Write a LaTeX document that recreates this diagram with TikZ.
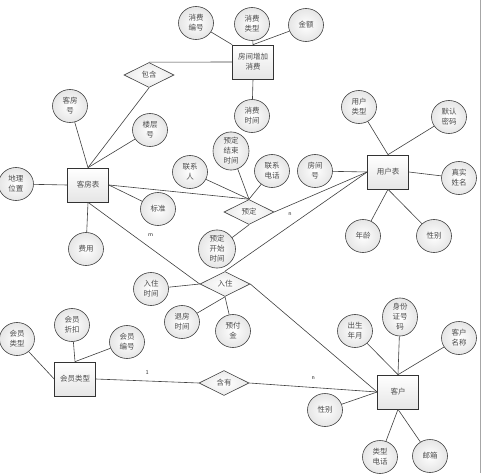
\documentclass[tikz,border=0pt]{standalone}
\usepackage{fontspec}
\newfontfamily\cjk{Noto Sans CJK SC}
\usetikzlibrary{shapes.geometric,positioning}
\begin{document}
\begin{tikzpicture}[x=1pt,y=-1pt,
  every node/.style={font=\cjk\fontsize{7.5}{10}\selectfont, text=black!70, inner sep=0pt, align=center},
  attr/.style={ellipse, draw=black!75, line width=0.6pt, minimum width=35pt, minimum height=33pt, inner color=white, outer color=black!10},
  ent/.style={rectangle, draw=black!80, line width=0.7pt, minimum width=41pt, minimum height=34pt, top color=white, bottom color=black!10},
  rel/.style={diamond, draw=black!75, line width=0.6pt, minimum width=50pt, minimum height=25pt, aspect=2, inner color=white, outer color=black!8},
  lnk/.style={draw=black!75, line width=0.6pt},
  card/.style={font=\sffamily\fontsize{6}{7}\selectfont, text=black!80}
]
\useasboundingbox (0,0) rectangle (481,473);
\fill[white] (0,0) rectangle (481,473);
\draw[black!35, line width=0.6pt] (480,0) -- (480,473);

% entities
\node[ent] (fjzj) at (253,62) {房间增加\\消费};
\node[ent] (kfb) at (88,185) {客房表};
\node[ent] (yhb) at (388,172) {用户表};
\node[ent] (hylxE) at (75,379) {会员类型};
\node[ent] (kh) at (398,392) {客户};

% relationships
\node[rel] (bh) at (149,75) {包含};
\node[rel] (yd) at (249,212) {预定};
\node[rel] (rz) at (225,284) {入住};
\node[rel] (hy) at (224,383) {含有};

% attributes
\node[attr] (xfbh) at (196,23) {消费\\编号};
\node[attr] (xflx) at (252,24) {消费\\类型};
\node[attr] (je) at (306,25) {金额};
\node[attr] (xfsj) at (252,116) {消费\\时间};
\node[attr] (kfh) at (70,106) {客房\\号};
\node[attr] (lch) at (150,130) {楼层\\号};
\node[attr] (dlwz) at (16,184) {地理\\位置};
\node[attr] (bz) at (158,209) {标准};
\node[attr] (fy) at (86,249) {费用};
\node[attr, minimum width=36pt, minimum height=36pt] (ydjs) at (231,151) {预定\\结束\\时间};
\node[attr] (lxr) at (190,172) {联系\\人};
\node[attr] (lxdh) at (272,171) {联系\\电话};
\node[attr] (fjh) at (315,171) {房间\\号};
\node[attr, minimum width=37pt, minimum height=35pt] (ydks) at (217,249) {预定\\开始\\时间};
\node[attr] (yhlx) at (359,107) {用户\\类型};
\node[attr] (mrmm) at (449,117) {默认\\密码};
\node[attr] (zsxm) at (459,178) {真实\\姓名};
\node[attr] (nl) at (363,236) {年龄};
\node[attr] (xb1) at (434,236) {性别};
\node[attr] (rzsj) at (151,289) {入住\\时间};
\node[attr] (tfsj) at (182,322) {退房\\时间};
\node[attr] (yfj) at (233,331) {预付\\金};
\node[attr] (hylx) at (17,339) {会员\\类型};
\node[attr] (hyzk) at (72,325) {会员\\折扣};
\node[attr] (hybh) at (127,342) {会员\\编号};
\node[attr] (csny) at (355,331) {出生\\年月};
\node[attr, minimum height=35pt] (sfz) at (400,317) {身份\\证号\\码};
\node[attr] (khmc) at (459,338) {客户\\名称};
\node[attr] (xb2) at (325,410) {性别};
\node[attr] (lxdh2) at (380,457) {类型\\电话};
\node[attr] (yx) at (430,456) {邮箱};

% connectors
\path[lnk] (xfbh) -- (fjzj.north west);
\path[lnk] (xflx) -- (fjzj.north);
\path[lnk] (je) -- (fjzj.north);
\path[lnk] (fjzj.south) -- (xfsj);
\path[lnk] (bh.north) -- (fjzj.west);
\path[lnk] (bh.south) -- (kfb.north);
\path[lnk] (kfh) -- (kfb.north);
\path[lnk] (lch) -- (kfb.north);
\path[lnk] (dlwz) -- (kfb.west);
\path[lnk] (bz) -- (kfb.east);
\path[lnk] (fy) -- (kfb.south);
\path[lnk] (kfb.east) -- (yd.north);
\path[lnk] (lxr) -- (yd.north);
\path[lnk] (ydjs) -- (yd.north);
\path[lnk] (lxdh) -- (yd.north);
\path[lnk] (yd.south) -- (ydks);
\path[lnk] (yd.east) -- node[card, pos=0.17, below=7pt] {n} (yhb.west);
\path[lnk] (fjh) -- (yhb.west);
\path[lnk] (yhlx) -- (yhb.north);
\path[lnk] (mrmm) -- (yhb.north);
\path[lnk] (zsxm) -- (yhb.east);
\path[lnk] (nl) -- (yhb.south);
\path[lnk] (xb1) -- (yhb.south);
\path[lnk] (kfb.south) -- node[card, pos=0.56, above=11pt] {m} (rz.west);
\path[lnk] (yhb.west) -- (rz.north);
\path[lnk] (rz.east) -- (kh.west);
\path[lnk] (rzsj) -- (rz.west);
\path[lnk] (tfsj) -- (rz.south);
\path[lnk] (yfj) -- (rz.south);
\path[lnk] (hylx) -- (hylxE.west);
\path[lnk] (hyzk) -- (hylxE.north);
\path[lnk] (hybh) -- (hylxE.north);
\path[lnk] (hylxE.east) -- node[card, pos=0.5, above=6pt] {1} (hy.west);
\path[lnk] (hy.east) -- node[card, pos=0.5, above=8pt] {n} (kh.west);
\path[lnk] (csny) -- (kh.north);
\path[lnk] (sfz) -- (kh.north);
\path[lnk] (khmc) -- (kh.north);
\path[lnk] (xb2) -- (kh.west);
\path[lnk] (lxdh2) -- (kh.south);
\path[lnk] (yx) -- (kh.south);
\end{tikzpicture}
\end{document}
